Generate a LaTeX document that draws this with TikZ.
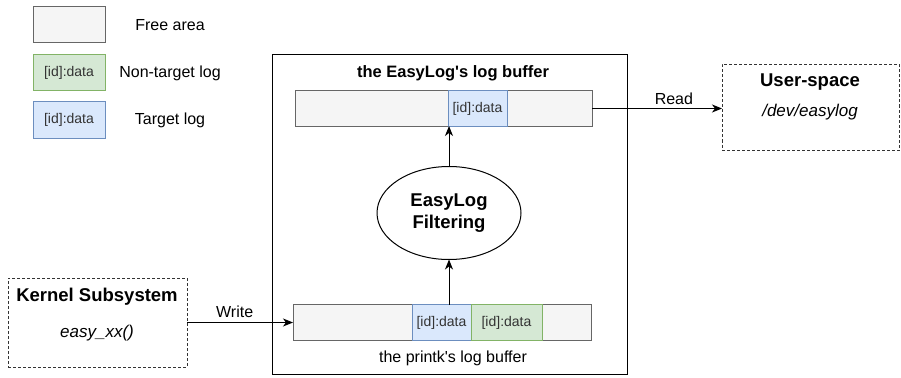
\documentclass[tikz,border=0pt]{standalone}
\usepackage{fontspec}
\setmainfont{Liberation Sans}
\usetikzlibrary{arrows.meta,shapes.geometric}

\definecolor{freefill}{HTML}{F5F5F5}
\definecolor{freeline}{HTML}{666666}
\definecolor{greenfill}{HTML}{D5E8D4}
\definecolor{greenline}{HTML}{82B366}
\definecolor{bluefill}{HTML}{DAE8FC}
\definecolor{blueline}{HTML}{6C8EBF}
\definecolor{celltext}{HTML}{333333}

\begin{document}
\begin{tikzpicture}[x=1pt, y=-1pt,
	every node/.style={inner sep=0pt, outer sep=0pt, font=\fontsize{16}{19}\selectfont},
	freecell/.style={draw=freeline, fill=freefill, line width=1pt, minimum height=36pt},
	greencell/.style={draw=greenline, fill=greenfill, line width=1pt, minimum height=36pt, text=celltext, font=\fontsize{14}{16}\selectfont},
	bluecell/.style={draw=blueline, fill=bluefill, line width=1pt, minimum height=36pt, text=celltext, font=\fontsize{14}{16}\selectfont},
	dashbox/.style={draw=black!80, line width=1pt, dash pattern=on 3pt off 2pt},
	boldtext/.style={font=\fontsize{18.5}{22}\selectfont\bfseries},
	itext/.style={font=\fontsize{17}{20}\selectfont\itshape},
	arrow/.style={line width=1pt, -{Stealth[length=10pt, width=8pt, inset=3pt]}}]
	\useasboundingbox (0,0) rectangle (901,377);

	\node[freecell, minimum width=72pt] (free) at (69,25) {};
	\node[greencell, minimum width=72pt] (nontarget) at (69,73) {[id]:data};
	\node[bluecell, minimum width=72pt] (target) at (69,120) {[id]:data};
	\node (freelabel) at (170,25) {Free area};
	\node (nontargetlabel) at (170,73) {Non-target log};
	\node (targetlabel) at (170,120) {Target log};

	\node[draw, line width=1pt, minimum width=355pt, minimum height=319pt] (logbox) at (449.5,214.5) {};
	\node[font=\fontsize{16.5}{20}\selectfont\bfseries] (easytitle) at (453,73) {the EasyLog\textquotesingle s log buffer};

	\node[freecell, minimum width=297pt, minimum height=35pt] (easybuf) at (443.5,108.5) {};
	\node[bluecell, minimum width=59pt, minimum height=35pt] (easyentry) at (477.5,108.5) {[id]:data};

	\node[freecell, minimum width=298pt] (printkbuf) at (442,322.5) {};
	\node[bluecell, minimum width=59pt] (printktarget) at (441.5,322.5) {[id]:data};
	\node[greencell, minimum width=71pt] (printkother) at (506.5,322.5) {[id]:data};
	\node (printktitle) at (453,358) {the printk\textquotesingle s log buffer};

	\node[ellipse, draw, line width=1pt, minimum width=144pt, minimum height=93pt, align=center,
		font=\fontsize{18.5}{22}\selectfont\bfseries] (filter) at (449,213) {EasyLog\\Filtering};

	\node[dashbox, minimum width=179pt, minimum height=89pt] (kernel) at (97.5,322.5) {};
	\node[boldtext] (kerneltitle) at (97,297) {Kernel Subsystem};
	\node[itext] (kernelfunc) at (97,333) {easy\_xx()};

	\node[dashbox, minimum width=177pt, minimum height=86pt] (user) at (810.5,107.5) {};
	\node[boldtext] (usertitle) at (810,82) {User-space};
	\node[itext] (userdev) at (810,112) {/dev/easylog};

	\draw[arrow] (printkbuf.north -| filter.south) -- (filter.south);
	\draw[arrow] (filter.north) -- (easybuf.south -| filter.north);
	\draw[arrow] (kernel.east) -- node[pos=0.45, above=5pt] (writelabel) {Write} (printkbuf.west);
	\draw[arrow] (easybuf.east) -- node[pos=0.63, above=4pt] (readlabel) {Read} (easybuf.east -| user.west);
\end{tikzpicture}
\end{document}
